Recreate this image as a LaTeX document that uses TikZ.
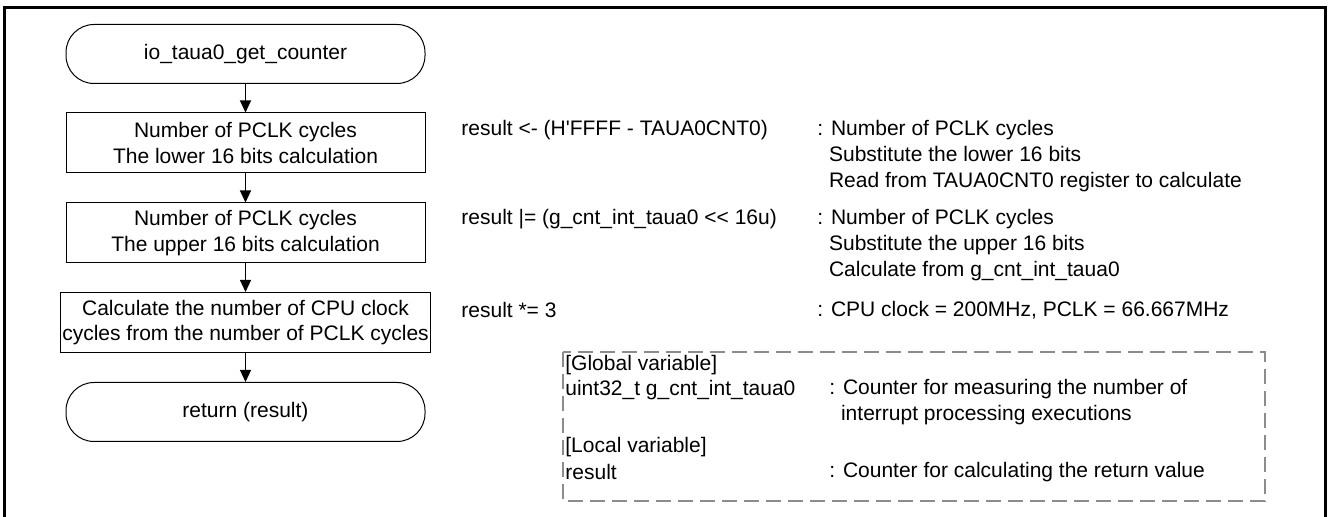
\documentclass[tikz,border=0pt]{standalone}
\usepackage{fontspec}
\setmainfont{Liberation Sans}[Ligatures=TeXOff]
\usetikzlibrary{arrows.meta}
\definecolor{notegray}{RGB}{140,140,140}

\begin{document}
\begin{tikzpicture}[x=0.5pt,y=-0.5pt,
    every node/.style={font=\fontsize{10.5}{12.8}\selectfont},
    term/.style={draw,rounded corners=14pt,minimum width=179.5pt,minimum height=29.5pt,line width=0.5pt},
    proc/.style={draw,minimum width=179.5pt,minimum height=30pt,align=center,line width=0.5pt,inner sep=1pt},
    txt/.style={anchor=west,inner sep=0pt,align=left},
    arr/.style={-{Triangle[length=6pt,width=5.5pt]},line width=0.6pt}]
    \useasboundingbox (0,0) rectangle (1328,517);
    % frame
    \draw[line width=1.5pt] (4.5,517) -- (4.5,7.5) -- (1325,7.5) -- (1325,517);
    % flow
    \node[term] (start) at (245.5,54) {io\_taua0\_get\_counter};
    \node[proc] (low) at (245.5,143) {Number of PCLK cycles\\The lower 16 bits calculation};
    \node[proc] (up) at (245.5,233) {Number of PCLK cycles\\The upper 16 bits calculation};
    \node[proc] (cpu) at (245.5,322.5) {Calculate the number of CPU clock\\cycles from the number of PCLK cycles};
    \node[term] (ret) at (245.5,412) {return (result)};
    \foreach \a/\b in {start/low,low/up,up/cpu,cpu/ret}
        \draw[arr] (\a) -- (\b);
    % statements
    \node[txt] (s1) at (461,130) {result <- (H'FFFF - TAUA0CNT0)};
    \node[txt] (s2) at (461,219) {result |= (g\_cnt\_int\_taua0 {<}{<} 16u)};
    \node[txt] (s3) at (461,310) {result *= 3};
    \node[txt] (c1) at (817,156) {: Number of PCLK cycles\\\phantom{:\ }Substitute the lower 16 bits\\\phantom{:\ }Read from TAUA0CNT0 register to calculate};
    \node[txt] (c2) at (817,245) {: Number of PCLK cycles\\\phantom{:\ }Substitute the upper 16 bits\\\phantom{:\ }Calculate from g\_cnt\_int\_taua0};
    \node[txt] (c3) at (817,310) {: CPU clock = 200MHz, PCLK = 66.667MHz};
    % variables
    \draw[notegray,line width=1.4pt,dash pattern=on 7.5pt off 3.5pt] (563,352) rectangle (1265,501);
    \node[txt] (gv) at (565,365) {[Global variable]};
    \node[txt] (gn) at (565,390) {uint32\_t g\_cnt\_int\_taua0};
    \node[txt] (gc) at (829,402) {: Counter for measuring the number of\\\phantom{:\ }interrupt processing executions};
    \node[txt] (lv) at (565,447) {[Local variable]};
    \node[txt] (ln) at (565,472) {result};
    \node[txt] (lc) at (829,472) {: Counter for calculating the return value};
\end{tikzpicture}
\end{document}
